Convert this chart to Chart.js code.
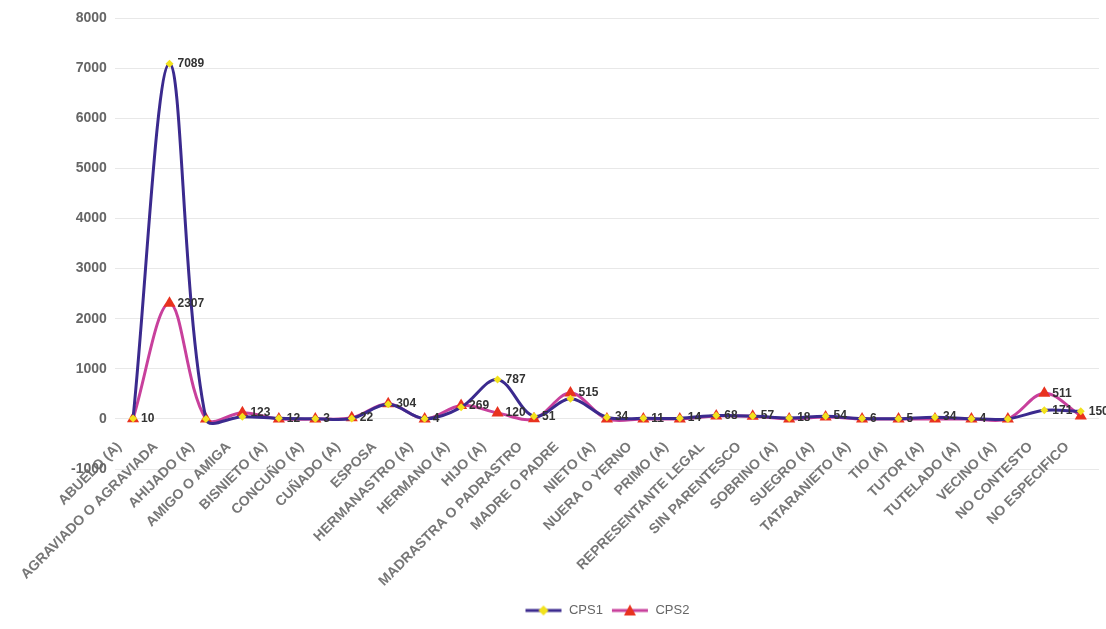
<!DOCTYPE html>
<html>
<head>
<meta charset="utf-8">
<script src="https://cdn.jsdelivr.net/npm/chart.js@4"></script>
<style>
  body { margin: 0; background: #fff; }
  #wrap { width: 1106px; height: 629px; }
</style>
</head>
<body>
<div id="wrap"><canvas id="myChart" width="1106" height="629"></canvas></div>
<script>
'use strict'
// categories and series
const categories = [
    'ABUELO (A)', 'AGRAVIADO O AGRAVIADA', 'AHIJADO (A)', 'AMIGO O AMIGA', 'BISNIETO (A)',
    'CONCUÑO (A)', 'CUÑADO (A)', 'ESPOSA', 'HERMANASTRO (A)', 'HERMANO (A)', 'HIJO (A)',
    'MADRASTRA O PADRASTRO', 'MADRE O PADRE', 'NIETO (A)', 'NUERA O YERNO', 'PRIMO (A)',
    'REPRESENTANTE LEGAL', 'SIN PARENTESCO', 'SOBRINO (A)', 'SUEGRO (A)', 'TATARANIETO (A)',
    'TIO (A)', 'TUTOR (A)', 'TUTELADO (A)', 'VECINO (A)', 'NO CONTESTO', 'NO ESPECIFICO'
];
const cps1 = [10, 7089, 0, 45, 12, 3, 8, 290, 4, 230, 787, 51, 400, 34, 11, 14, 68, 57, 18, 54, 6, 5, 34, 4, 0, 171, 150];
const cps2 = [4, 2307, 0, 123, 0, 0, 22, 304, 0, 269, 120, 1, 515, 0, 0, 0, 60, 52, 0, 40, 0, 0, 0, 0, 0, 511, 60];
const yTicks = [-1000, 0, 1000, 2000, 3000, 4000, 5000, 6000, 7000, 8000];

const FONT = '"Liberation Sans", Arial, sans-serif';

// little legend picture: line with the marker in the middle
function legendIcon(lineColor, markerColor, kind) {
    let c = document.createElement('canvas');
    c.width = 38;
    c.height = 14;
    let g = c.getContext('2d');
    g.strokeStyle = lineColor;
    g.lineWidth = 3;
    g.beginPath();
    g.moveTo(1, 7);
    g.lineTo(37, 7);
    g.stroke();
    g.fillStyle = markerColor;
    g.beginPath();
    if (kind === 'tri') {
        g.moveTo(19, 1);
        g.lineTo(25, 12);
        g.lineTo(13, 12);
    } else {
        g.moveTo(19, 2);
        g.lineTo(24, 7);
        g.lineTo(19, 12);
        g.lineTo(14, 7);
    }
    g.closePath();
    g.fill();
    return c;
}

// value labels next to the points, bigger values win when they collide
const valueLabels = {
    id: 'valueLabels',
    afterDatasetsDraw(chart) {
        const ctx = chart.ctx;
        let items = [];
        chart.data.datasets.forEach(function (ds, di) {
            const meta = chart.getDatasetMeta(di);
            meta.data.forEach(function (pt, i) {
                if (ds.data[i] > 0) {
                    items.push({ x: pt.x, y: pt.y, v: ds.data[i] });
                }
            });
        });
        items.sort(function (a, b) { return b.v - a.v; });
        ctx.save();
        ctx.font = 'bold 12px ' + FONT;
        ctx.fillStyle = '#333';
        ctx.textBaseline = 'middle';
        ctx.textAlign = 'left';
        let boxes = [];
        items.forEach(function (it) {
            const txt = String(it.v);
            const w = ctx.measureText(txt).width;
            const b = { l: it.x + 8, r: it.x + 8 + w, t: it.y - 6, bt: it.y + 6 };
            const hit = boxes.some(function (o) {
                return b.l < o.r && b.r > o.l && b.t < o.bt && b.bt > o.t;
            });
            if (!hit) {
                boxes.push(b);
                ctx.fillText(txt, b.l, it.y);
            }
        });
        ctx.restore();
    }
};

const icon1 = legendIcon('#3b2a8e', '#f2e21c', 'dia');
const icon2 = legendIcon('#c8409c', '#e8321f', 'tri');

let ctx = document.getElementById('myChart');
let chart = new Chart(ctx, {
    type: 'line',
    data: {
        labels: categories,
        datasets: [{
            label: 'CPS1',
            data: cps1,
            borderColor: '#3b2a8e',
            borderWidth: 3,
            backgroundColor: '#f2e21c',
            pointStyle: 'rectRot',
            pointRadius: 4,
            pointBorderWidth: 0,
            tension: 0.35
        },
        {
            label: 'CPS2',
            data: cps2,
            borderColor: '#c8409c',
            borderWidth: 3,
            backgroundColor: '#e8321f',
            pointStyle: 'triangle',
            pointRadius: 7,
            pointBorderWidth: 0,
            tension: 0.35
        }]
    },
    options: {
        responsive: false,
        devicePixelRatio: 1,
        animation: false,
        layout: { padding: { top: 18, right: 1, left: 63, bottom: 2 } },
        plugins: {
            tooltip: { enabled: false },
            legend: {
                position: 'bottom',
                fullSize: false,
                labels: {
                    usePointStyle: true,
                    pointStyleWidth: 38,
                    boxHeight: 12,
                    color: '#666',
                    font: { size: 13, family: FONT },
                    padding: 8,
                    generateLabels: function (ch) {
                        return ch.data.datasets.map(function (ds, i) {
                            return {
                                text: ds.label,
                                pointStyle: i === 0 ? icon1 : icon2,
                                fillStyle: ds.backgroundColor,
                                strokeStyle: ds.borderColor,
                                lineWidth: 0,
                                fontColor: '#666',
                                datasetIndex: i
                            };
                        });
                    }
                }
            }
        },
        scales: {
            x: {
                offset: true,
                grid: { display: false, drawTicks: false },
                border: { display: false },
                afterFit: function (scale) {
                    // labels sit up at the zero line, so they must not be clipped to the axis box
                    scale.height = 127;
                    scale._computeLabelArea = function () { return undefined; };
                },
                ticks: {
                    autoSkip: false,
                    maxRotation: 45,
                    minRotation: 45,
                    padding: -44,
                    color: '#777',
                    font: { size: 14, weight: 'bold', family: FONT },
                    callback: function (v, i) { return categories[i] + '     '; }
                }
            },
            y: {
                min: yTicks[0],
                max: yTicks[yTicks.length - 1],
                afterBuildTicks: function (axis) {
                    axis.ticks = yTicks.map(function (v) { return { value: v }; });
                },
                grid: { color: '#e8e8e8', drawTicks: false },
                border: { display: false },
                ticks: {
                    padding: 8,
                    color: '#666',
                    font: { size: 14, weight: 'bold', family: FONT },
                    callback: function (v) { return String(v); }
                }
            }
        }
    },
    plugins: [valueLabels]
});
</script>
</body>
</html>
